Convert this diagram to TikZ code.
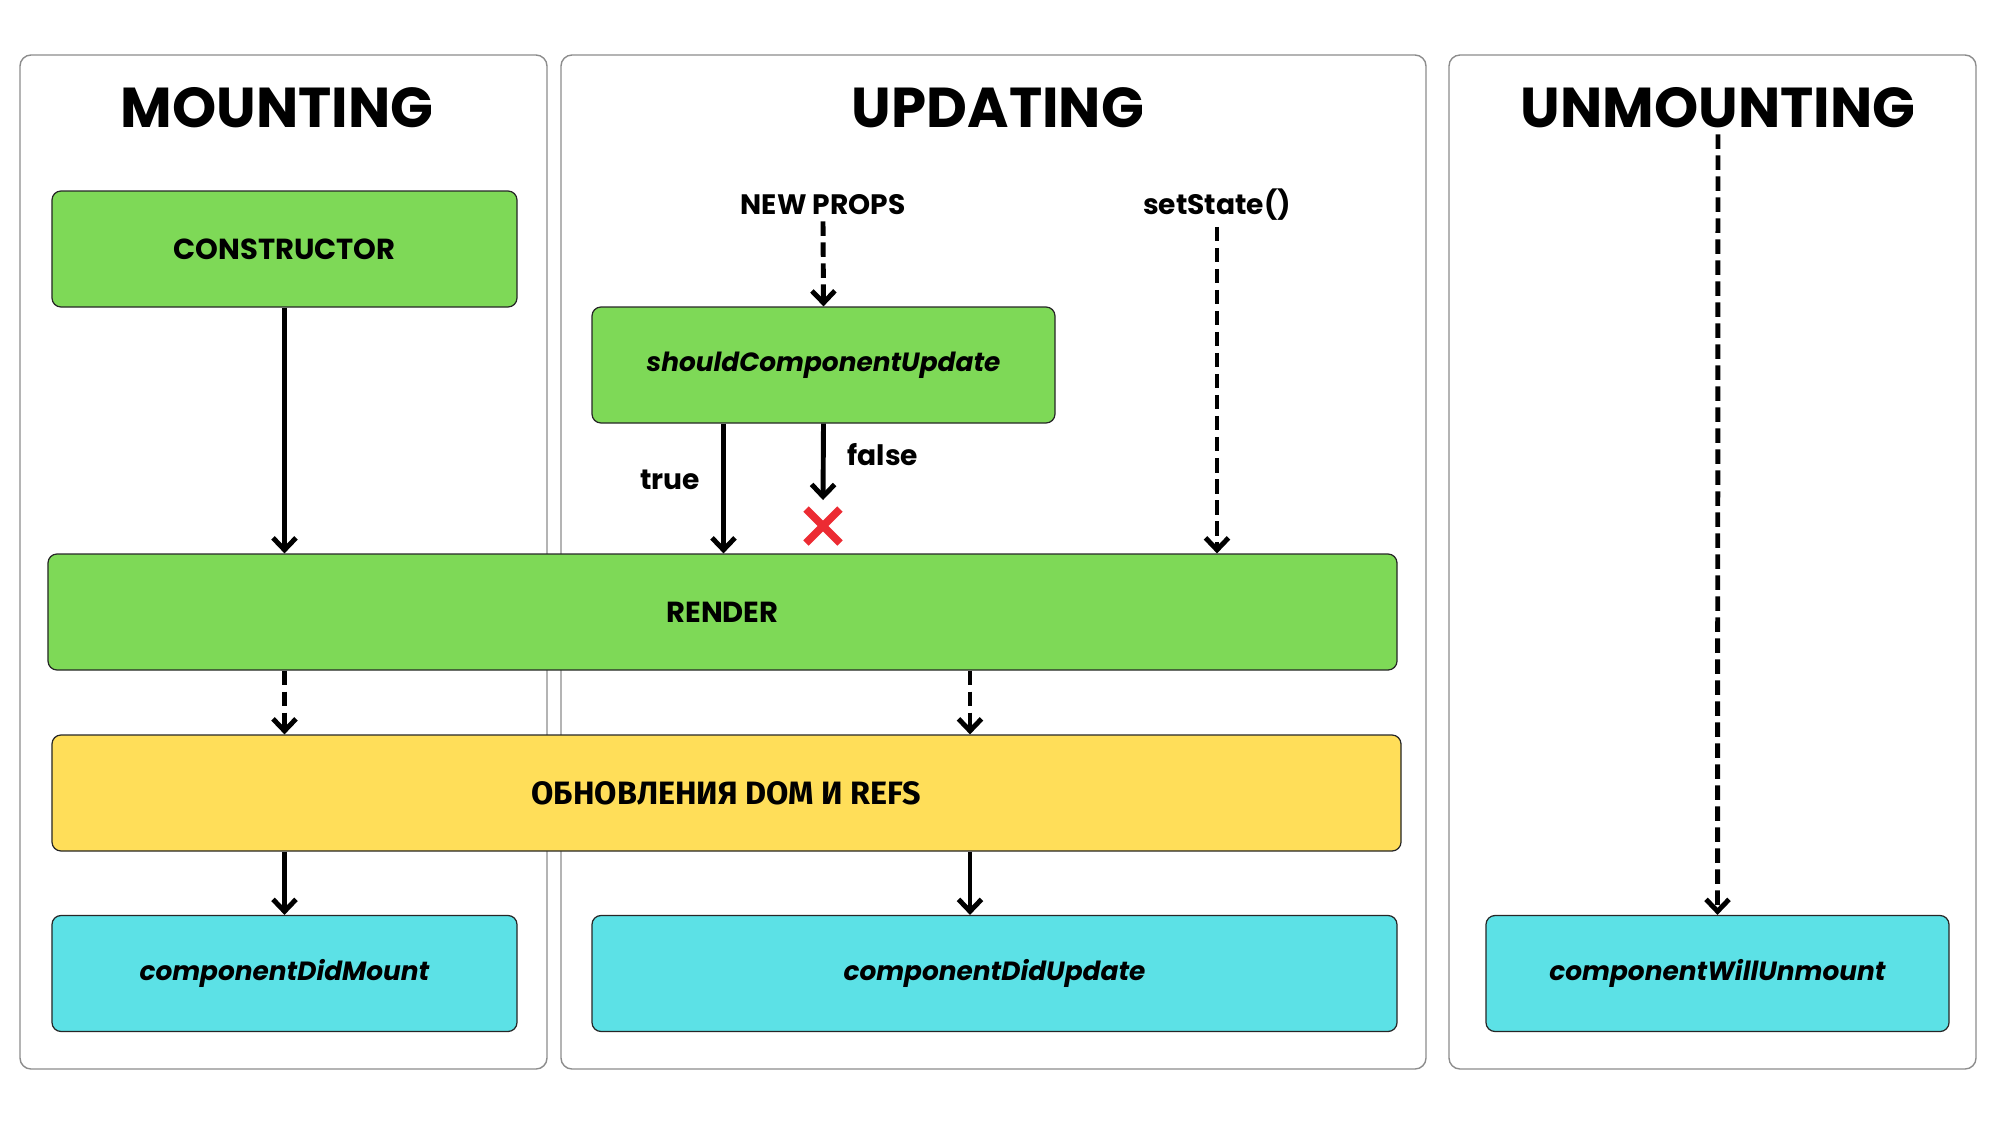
\documentclass[tikz,border=0pt]{standalone}
\usepackage{fontspec}
\setmainfont{Poppins}
\newfontfamily\cyrfont{Fira Sans}
\usetikzlibrary{arrows.meta}

\definecolor{boxgreen}{HTML}{7ED957}
\definecolor{boxyellow}{HTML}{FFDE59}
\definecolor{boxcyan}{HTML}{5CE1E6}
\definecolor{crossred}{HTML}{EC2B33}
\definecolor{panelgray}{HTML}{8C8C8C}

\begin{document}
\begin{tikzpicture}[x=0.2mm,y=-0.2mm,
    panel/.style={draw=panelgray,line width=0.8pt,rounded corners=2.2mm},
    phase/.style={font=\fontsize{32}{36}\selectfont\bfseries},
    stepbox/.style={draw=black!85,line width=0.7pt,rounded corners=1.8mm,
        minimum height=23.2mm,font=\fontsize{16.5}{19}\selectfont\bfseries},
    method/.style={stepbox,fill=boxcyan,font=\fontsize{15}{18}\selectfont\bfseries\itshape},
    lbl/.style={font=\fontsize{16}{19}\selectfont\bfseries},
    flow/.style={line width=2.8pt,-{Straight Barb[length=2.4mm,width=4.6mm]}},
    flowdash/.style={flow,dash pattern=on 2.9mm off 1.3mm}]
    \useasboundingbox (0,0) rectangle (2000,1125);

    % the three phases
    \draw[panel] (20,55) rectangle (547,1069);
    \draw[panel] (561,55) rectangle (1426,1069);
    \draw[panel] (1449,55) rectangle (1976,1069);

    \node[phase] (mount) at (277,108) {MOUNTING};
    \node[phase] (update) at (998,108) {UPDATING};
    \node[phase] (unmount) at (1718,108) {UNMOUNTING};

    % lifecycle steps
    \node[stepbox,fill=boxgreen,minimum width=93mm] (ctor) at (284.5,249) {CONSTRUCTOR};
    \node[stepbox,fill=boxgreen,minimum width=92.6mm,font=\fontsize{15}{18}\selectfont\bfseries\itshape] (should) at (823.5,365) {shouldComponentUpdate};
    \node[stepbox,fill=boxgreen,minimum width=269.8mm] (render) at (722.5,612) {RENDER};
    \node[stepbox,fill=boxyellow,minimum width=269.8mm,font=\fontsize{18.4}{21}\selectfont\cyrfont\bfseries] (domref) at (726.5,793) {ОБНОВЛЕНИЯ DOM И REFS};
    \node[method,minimum width=93mm] (didmount) at (284.5,973.5) {componentDidMount};
    \node[method,minimum width=161mm] (didupdate) at (994.5,973.5) {componentDidUpdate};
    \node[method,minimum width=92.6mm] (willunmount) at (1717.5,973.5) {componentWillUnmount};

    \node[lbl] (newprops) at (823,205) {NEW PROPS};
    \node[lbl] (setstate) at (1217,205) {setState()};
    \node[lbl] (truelbl) at (670,480) {true};
    \node[lbl] (falselbl) at (883,455) {false};

    \coordinate (halt) at (823,500);
    \coordinate (cross) at (823,526);
    \coordinate (updx) at ([xshift=-4.9mm]didupdate.north);

    % arrows
    \draw[flow] (ctor.south) -- (ctor.south |- render.north);
    \draw[flowdash] (newprops.south) -- (should.north);
    \draw[flow] ([xshift=-20mm]should.south) -- ([xshift=-20mm]should.south |- render.north);
    \draw[flow] (should.south) -- (halt);
    \draw[crossred,line width=4.3pt] (cross) +(-17,-17) -- +(17,17) +(-17,17) -- +(17,-17);
    \draw[flowdash] (setstate.south) -- (setstate.south |- render.north);
    \draw[flowdash] (ctor.south |- render.south) -- (ctor.south |- domref.north);
    \draw[flowdash] (updx |- render.south) -- (updx |- domref.north);
    \draw[flow] (didmount.north |- domref.south) -- (didmount.north);
    \draw[flow] (updx |- domref.south) -- (updx);
    \draw[flowdash] (unmount.south) -- (willunmount.north);
\end{tikzpicture}
\end{document}
